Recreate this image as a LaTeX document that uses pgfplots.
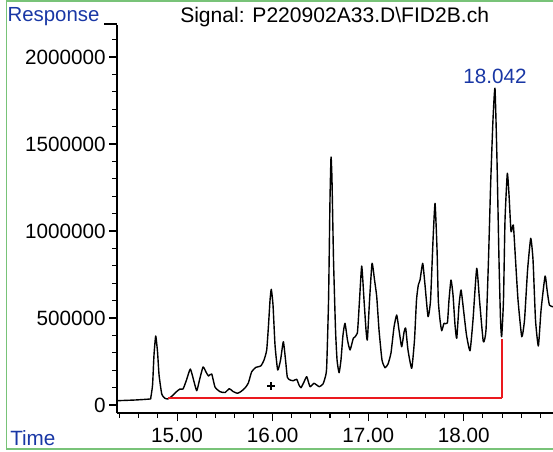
\documentclass[border=0pt]{standalone}
\usepackage{fontspec}
\setmainfont{Liberation Sans}
\usepackage{pgfplots}
\pgfplotsset{compat=1.18}
\definecolor{hpblue}{RGB}{25,55,165}
\definecolor{frameg}{RGB}{120,195,120}
\definecolor{basered}{RGB}{235,25,30}
\begin{document}
\begin{tikzpicture}
\path[use as bounding box] (0,0) rectangle (414.75pt,338.25pt);
\draw[frameg, line width=1pt] (5pt,1.5pt) rectangle (430pt,337.5pt);
\begin{axis}[
  at={(87.75pt,28.5pt)}, anchor=south west,
  scale only axis, width=327pt, height=291pt,
  xmin=14.372, xmax=18.933, ymin=-46000, ymax=2184000,
  axis x line*=bottom, axis y line*=left,
  axis line style={line width=1pt},
  tick align=outside,
  major tick length=6pt, minor tick length=3.5pt,
  every tick/.style={black, line width=0.8pt},
  xtick={15,16,17,18},
  minor xtick={14.4,14.6,14.8,15.2,15.4,15.6,15.8,16.2,16.4,16.6,16.8,17.2,17.4,17.6,17.8,18.2,18.4,18.6,18.8},
  ytick={0,500000,1000000,1500000,2000000},
  minor ytick={100000,200000,300000,400000,600000,700000,800000,900000,1100000,1200000,1300000,1400000,1600000,1700000,1800000,1900000,2100000},
  scaled y ticks=false,
  /pgf/number format/assume math mode=true,
  tick label style={font=\fontsize{15.5}{18}\selectfont},
  xticklabel style={yshift=-2pt},
  yticklabel style={xshift=1pt,/pgf/number format/fixed,/pgf/number format/1000 sep={}},
  xticklabel={\pgfmathprintnumber[assume math mode=true,fixed,fixed zerofill,precision=2]{\tick}},
  clip=true,
]
\addplot[black, line width=1.05pt, line join=round, smooth, tension=0.3] coordinates {
(14.372,24700) (14.561,28700) (14.718,34500) (14.725,40200) (14.744,115000) (14.759,287000)
(14.777,396500) (14.796,304600) (14.812,172400) (14.840,63200) (14.869,40200) (14.903,34500)
(14.948,51700) (14.990,74700) (15.031,92000) (15.063,92000) (15.099,143700) (15.139,206900)
(15.173,143700) (15.206,82200) (15.235,143700) (15.272,218400) (15.303,189700) (15.329,166700)
(15.363,178200) (15.397,103400) (15.450,76400) (15.502,71800) (15.547,93700) (15.586,77600)
(15.631,67200) (15.669,77600) (15.711,97700) (15.746,126400) (15.781,191400) (15.826,216700)
(15.876,224100) (15.910,258600) (15.938,316100) (15.957,459800) (15.973,603400) (15.986,664900)
(16.004,574700) (16.025,344800) (16.053,201100) (16.083,258600) (16.112,363800) (16.135,258600)
(16.154,159200) (16.182,143700) (16.217,139700) (16.252,147700) (16.276,114900) (16.297,99400)
(16.328,132200) (16.357,162600) (16.391,105200) (16.433,124700) (16.488,105200) (16.527,120700)
(16.548,155200) (16.565,212600) (16.585,603400) (16.600,1178000) (16.611,1425000) (16.621,1293000)
(16.637,833300) (16.658,431000) (16.674,258600) (16.695,185600) (16.715,258600) (16.736,402300)
(16.757,469500) (16.783,373600) (16.810,316100) (16.844,383300) (16.886,412100) (16.909,603400)
(16.932,798800) (16.956,603400) (16.977,431000) (16.991,373600) (17.014,603400) (17.040,814300)
(17.066,718400) (17.089,622400) (17.113,431000) (17.144,258600) (17.176,214400) (17.207,235600)
(17.238,298800) (17.270,448300) (17.298,517200) (17.322,431000) (17.350,335000) (17.375,419500)
(17.392,440800) (17.416,316100) (17.455,210900) (17.484,373600) (17.505,603400) (17.524,689600)
(17.542,718400) (17.570,814300) (17.594,689600) (17.626,507500) (17.652,603400) (17.678,948300)
(17.699,1159000) (17.720,890800) (17.733,603400) (17.751,488500) (17.769,427000) (17.793,469500)
(17.828,471300) (17.845,603400) (17.866,718400) (17.887,632200) (17.908,459800) (17.926,383300)
(17.950,574700) (17.971,660900) (17.997,546000) (18.028,402300) (18.065,312100) (18.096,488500)
(18.135,785600) (18.164,603400) (18.204,363800) (18.232,431000) (18.258,833300) (18.281,1275800)
(18.305,1637900) (18.326,1820000) (18.347,1408000) (18.368,833300) (18.384,488500) (18.396,392500)
(18.415,603400) (18.431,1063000) (18.455,1331600) (18.473,1206900) (18.494,996000) (18.518,1034500)
(18.541,833300) (18.567,603400) (18.606,392500) (18.635,488500) (18.667,775800) (18.700,958000)
(18.724,833300) (18.750,488500) (18.780,339100) (18.808,546000) (18.850,741400) (18.871,660900)
(18.895,574700) (18.933,564900)
};
\addplot[color=basered, mark=none, line width=1.4pt] coordinates {(14.903,40000) (18.396,40000)};
\addplot[color=basered, mark=none, line width=1.4pt] coordinates {(18.396,40000) (18.396,380000)};
\addplot[only marks, mark=+, mark size=3pt, mark options={line width=0.9pt}] coordinates {(15.983,109200)};
\node[anchor=south, text=hpblue, font=\fontsize{15.5}{18}\selectfont, inner sep=1pt, yshift=2pt] at (axis cs:18.326,1820000) {18.042};
\end{axis}
\draw[line width=1pt] (78pt,320.25pt) -- (87.75pt,320.25pt);
\node[anchor=base west, text=hpblue, font=\fontsize{15.3}{18}\selectfont, inner sep=0pt] at (5.5pt,322pt) {Response};
\node[anchor=base west, font=\fontsize{15.8}{19}\selectfont, inner sep=0pt] at (135pt,321.5pt) {Signal: P220902A33.D\textbackslash FID2B.ch};
\node[anchor=base west, text=hpblue, font=\fontsize{15.5}{18}\selectfont, inner sep=0pt] at (7.5pt,4pt) {Time};
\end{tikzpicture}
\end{document}
